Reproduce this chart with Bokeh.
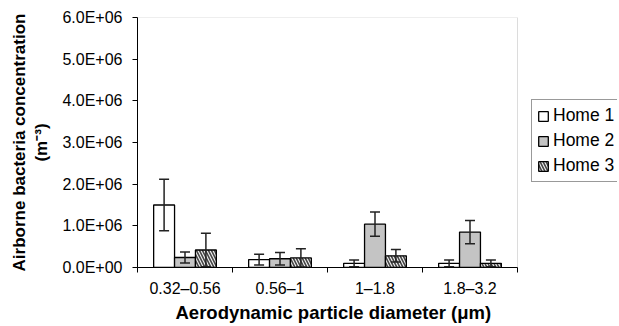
from bokeh.plotting import figure
from bokeh.models import (ColumnDataSource, Whisker, TeeHead, FixedTicker, Range1d,
                          Legend, LegendItem, BoxAnnotation, Title)
from bokeh.embed import file_html
from bokeh.resources import INLINE

categories = ["0.32\u20130.56", "0.56\u20131", "1\u20131.8", "1.8\u20133.2"]
series = ["Home 1", "Home 2", "Home 3"]
home1 = [1.50e6, 0.19e6, 0.10e6, 0.10e6]
home1_err = [0.62e6, 0.13e6, 0.08e6, 0.08e6]
home2 = [0.24e6, 0.21e6, 1.04e6, 0.85e6]
home2_err = [0.13e6, 0.15e6, 0.29e6, 0.28e6]
home3 = [0.42e6, 0.23e6, 0.28e6, 0.10e6]
home3_err = [0.40e6, 0.22e6, 0.15e6, 0.08e6]
yticks = [0, 1e6, 2e6, 3e6, 4e6, 5e6, 6e6]
ytick_labels = ["0.0E+00", "1.0E+06", "2.0E+06", "3.0E+06", "4.0E+06", "5.0E+06", "6.0E+06"]

FONT = "Liberation Sans"
ncat = len(categories)

# frame spans 137..617 px; the plotted categories occupy the first 380 px
x_end = ncat * 480.0 / 380.0

p = figure(width=619, height=326, output_backend="svg", toolbar_location=None,
           x_range=Range1d(0, x_end), y_range=Range1d(0, 6e6),
           min_border_left=137, min_border_right=2, min_border_top=17, min_border_bottom=59)
p.background_fill_color = "white"
p.border_fill_color = "white"
p.outline_line_color = None
p.xgrid.visible = False
p.ygrid.visible = False

# grey plot-area border (top and right)
border = BoxAnnotation(left=0, right=ncat, bottom=0, top=6e6, fill_alpha=0,
                       line_color="#8a8a8a", line_width=1, level="underlay")
p.add_layout(border)

offsets = [-0.22, 0.0, 0.22]
vals = [home1, home2, home3]
errs = [home1_err, home2_err, home3_err]
styles = [dict(fill_color="white"),
          dict(fill_color="#c4c4c4"),
          dict(fill_color="#eeeeee", hatch_pattern="\\", hatch_color="#444444",
               hatch_scale=6, hatch_weight=1.6)]
renderers = []
for k in range(3):
    xs = [i + 0.5 + offsets[k] for i in range(ncat)]
    src = ColumnDataSource(dict(x=xs, top=vals[k],
                                upper=[v + e for v, e in zip(vals[k], errs[k])],
                                lower=[max(v - e, 0) for v, e in zip(vals[k], errs[k])]))
    r = p.vbar(x="x", top="top", bottom=0, width=0.22, source=src,
               line_color="black", line_width=1.3, **styles[k])
    renderers.append(r)
    w = Whisker(base="x", upper="upper", lower="lower", source=src, level="overlay",
                line_color="#222222", line_width=1.5,
                upper_head=TeeHead(size=10, line_width=1.5, line_color="#222222"),
                lower_head=TeeHead(size=10, line_width=1.5, line_color="#222222"))
    p.add_layout(w)

# x axis
xa = p.xaxis[0]
xa.bounds = (0, ncat)
xa.ticker = FixedTicker(ticks=[i + 0.5 for i in range(ncat)],
                        minor_ticks=list(range(ncat + 1)))
xa.major_label_overrides = {i + 0.5: c for i, c in enumerate(categories)}
xa.major_tick_out = 0
xa.major_tick_in = 0
xa.minor_tick_out = 5
xa.minor_tick_in = 0
xa.minor_tick_line_color = "black"
xa.axis_line_color = "black"
xa.major_label_text_font = FONT
xa.major_label_text_font_size = "16px"
xa.major_label_text_color = "black"
xa.major_label_standoff = 7

# x axis title, placed under the category area (not the full frame)
xtitle = Title(text="Aerodynamic particle diameter (\u03bcm)", align="left",
               offset=38, text_font=FONT, text_font_style="bold",
               text_font_size="18.5px", text_color="black", standoff=0)
p.add_layout(xtitle, "below")

# y axis
ya = p.yaxis[0]
ya.ticker = FixedTicker(ticks=yticks, minor_ticks=[])
ya.major_label_overrides = {t: l for t, l in zip(yticks, ytick_labels)}
ya.major_tick_out = 5
ya.major_tick_in = 0
ya.minor_tick_out = 0
ya.axis_line_color = "black"
ya.major_label_text_font = FONT
ya.major_label_text_font_size = "16px"
ya.major_label_text_color = "black"
ya.major_label_standoff = 10
ya.axis_label = "Airborne bacteria concentration\n(m\u207b\u00b3)"
ya.axis_label_text_font = FONT
ya.axis_label_text_font_style = "bold"
ya.axis_label_text_font_size = "17px"
ya.axis_label_text_color = "black"
ya.axis_label_text_align = "center"
ya.axis_label_standoff = 8

legend = Legend(items=[LegendItem(label=s, renderers=[r]) for s, r in zip(series, renderers)],
                location=(394, 85), orientation="vertical",
                label_text_font=FONT, label_text_font_size="17.5px", label_text_color="black",
                glyph_width=12, glyph_height=12, label_height=20, spacing=4,
                padding=5, margin=0, label_standoff=4,
                border_line_color="#333333", border_line_width=1,
                background_fill_color="white", background_fill_alpha=1)
p.add_layout(legend, "center")

open("out.html", "w").write(file_html(p, INLINE))
